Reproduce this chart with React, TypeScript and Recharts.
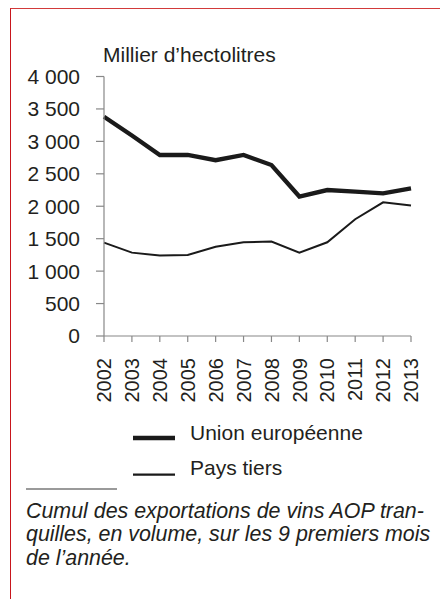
import React from 'react';
import { LineChart, Line, XAxis, YAxis, Label } from 'recharts';

const years = ['2002', '2003', '2004', '2005', '2006', '2007', '2008', '2009', '2010', '2011', '2012', '2013'];
const unionEuropeenne = [3380, 3090, 2790, 2790, 2710, 2790, 2635, 2150, 2250, 2225, 2200, 2275];
const paysTiers = [1440, 1285, 1240, 1250, 1375, 1445, 1455, 1285, 1445, 1800, 2060, 2010];
const yTicks = [0, 500, 1000, 1500, 2000, 2500, 3000, 3500, 4000];
const seriesNames = ['Union européenne', 'Pays tiers'];
const unitLabel = 'Millier d’hectolitres';
const footnoteLines = [
  'Cumul des exportations de vins AOP tran-',
  'quilles, en volume, sur les 9 premiers mois',
  'de l’année.',
];

const data = years.map((year, i) => ({ year, ue: unionEuropeenne[i], pt: paysTiers[i] }));

const FONT = '"Liberation Sans", Arial, Helvetica, sans-serif';
const TEXT = '#231f20';
const LINE = '#1a1a1a';
const AXIS = '#888888';

const fmt = (v: number) => (v >= 1000 ? `${Math.floor(v / 1000)} ${String(v % 1000).padStart(3, '0')}` : String(v));

const XTick = (props: any) => {
  const { x, y, payload } = props;
  const ty = y + 14;
  return (
    <text
      x={x}
      y={ty}
      dy="0.36em"
      transform={`rotate(-90 ${x} ${ty})`}
      textAnchor="end"
      fontSize={20}
      fill={TEXT}
      fontFamily={FONT}
    >
      {payload.value}
    </text>
  );
};

export default function App() {
  return (
    <div
      style={{
        position: 'absolute',
        left: 0,
        top: 0,
        width: 440,
        height: 599,
        overflow: 'hidden',
        background: '#ffffff',
        fontFamily: FONT,
      }}
    >
      <div
        style={{
          position: 'absolute',
          left: 10,
          top: 8,
          width: 440,
          height: 600,
          borderLeft: '1.3px solid #c8161d',
          borderTop: '1.3px solid #d23a3a',
        }}
      />
      <div style={{ position: 'absolute', left: 0, top: 0 }}>
        <LineChart
          width={440}
          height={420}
          data={data}
          margin={{ top: 76.5, right: 29, left: 0, bottom: 24 }}
        >
          <XAxis
            dataKey="year"
            interval={0}
            padding={{ left: 0, right: 0 }}
            tickSize={6}
            tickMargin={2}
            height={60}
            axisLine={{ stroke: AXIS, strokeWidth: 1.2 }}
            tickLine={{ stroke: AXIS, strokeWidth: 1.2 }}
            tick={<XTick />}
          />
          <YAxis
            width={104}
            domain={[0, 4000]}
            ticks={yTicks}
            interval={0}
            tickSize={8}
            tickMargin={16}
            tickFormatter={fmt}
            axisLine={{ stroke: AXIS, strokeWidth: 1.2 }}
            tickLine={{ stroke: AXIS, strokeWidth: 1.2 }}
            tick={{ fontSize: 21, fill: TEXT, fontFamily: FONT }}
          >
            <Label
              content={() => (
                <text x={103} y={61.5} fontSize={21} fill={TEXT} fontFamily={FONT}>
                  {unitLabel}
                </text>
              )}
            />
          </YAxis>
          <Line
            type="linear"
            dataKey="ue"
            name={seriesNames[0]}
            stroke={LINE}
            strokeWidth={4.3}
            dot={false}
            isAnimationActive={false}
          />
          <Line
            type="linear"
            dataKey="pt"
            name={seriesNames[1]}
            stroke={LINE}
            strokeWidth={2}
            dot={false}
            isAnimationActive={false}
          />
        </LineChart>
      </div>
      <svg
        width={440}
        height={80}
        style={{ position: 'absolute', left: 0, top: 410 }}
      >
        <line x1={133} x2={175} y1={28} y2={28} stroke={LINE} strokeWidth={4.3} />
        <text x={190} y={30} fontSize={21} fill={TEXT} fontFamily={FONT}>
          {seriesNames[0]}
        </text>
        <line x1={133} x2={175} y1={64.7} y2={64.7} stroke={LINE} strokeWidth={2.2} />
        <text x={190} y={65} fontSize={21} fill={TEXT} fontFamily={FONT}>
          {seriesNames[1]}
        </text>
      </svg>
      <div
        style={{
          position: 'absolute',
          left: 26,
          top: 487.5,
          width: 91,
          height: 2,
          background: '#9a9a9a',
        }}
      />
      <div
        style={{
          position: 'absolute',
          left: 26,
          top: 500,
          fontSize: 21.4,
          lineHeight: '23.3px',
          fontStyle: 'italic',
          color: TEXT,
          whiteSpace: 'nowrap',
          fontFamily: FONT,
        }}
      >
        {footnoteLines.map((l, i) => (
          <div key={i}>{l}</div>
        ))}
      </div>
    </div>
  );
}
